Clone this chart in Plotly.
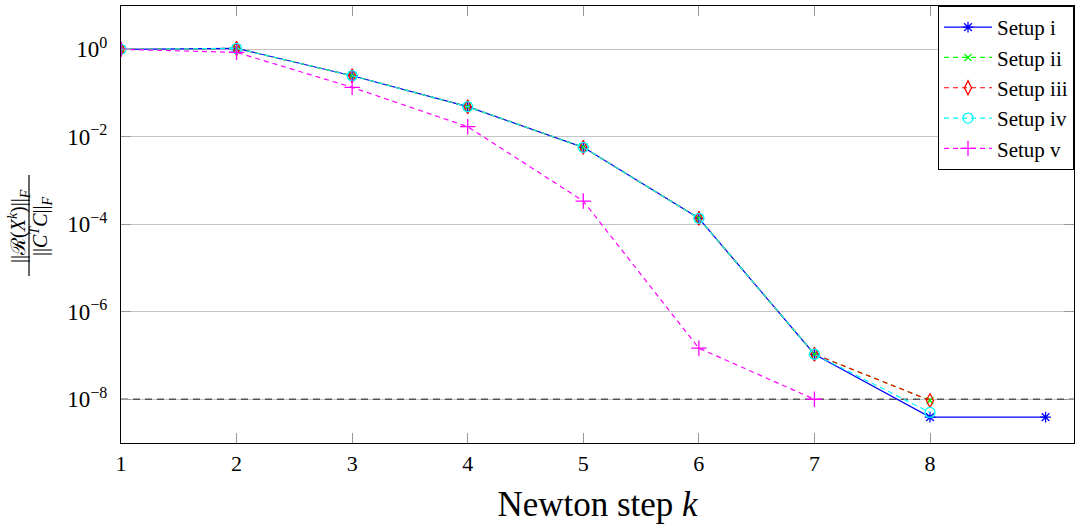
import plotly.graph_objects as go

# Newton iteration index
steps_i = [1, 2, 3, 4, 5, 6, 7, 8, 9]
steps_ii_iv = [1, 2, 3, 4, 5, 6, 7, 8]
steps_v = [1, 2, 3, 4, 5, 6, 7]

# Relative residual ||R(X^k)||_F / ||C^T C||_F per setup
res_i = [1.0, 1.05, 0.249, 0.0488, 0.00575, 1.37e-4, 1.07e-7, 3.9e-9, 3.9e-9]
res_ii = [1.0, 1.05, 0.249, 0.0488, 0.00575, 1.37e-4, 1.07e-7, 9.4e-9]
res_iii = [1.0, 1.05, 0.249, 0.0488, 0.00575, 1.37e-4, 1.07e-7, 9.4e-9]
res_iv = [1.0, 1.05, 0.249, 0.0488, 0.00575, 1.37e-4, 1.07e-7, 5.0e-9]
res_v = [1.0, 0.85, 0.135, 0.017, 3.4e-4, 1.47e-7, 1.0e-8]

# Stopping tolerance
tol = 1e-8

# Axis limits and ticks
x_lim = [1, 9.246]
y_lim_log = [-9.0, 0.99]
x_ticks = [1, 2, 3, 4, 5, 6, 7, 8]
y_ticks = [1e0, 1e-2, 1e-4, 1e-6, 1e-8]
y_ticktext = ["10<sup>0</sup>", "10<sup>\u22122</sup>", "10<sup>\u22124</sup>",
              "10<sup>\u22126</sup>", "10<sup>\u22128</sup>"]

SERIF = "'Liberation Serif', 'Times New Roman', serif"
DASH = "5px,4px"

fig = go.Figure()

fig.add_trace(go.Scatter(
    x=x_lim, y=[tol, tol], mode="lines", showlegend=False, hoverinfo="skip",
    line=dict(color="#555555", width=1.6, dash="7px,5px"),
))

series = [
    ("Setup i", steps_i, res_i, "#0000ff", "solid", "asterisk-open", 9),
    ("Setup ii", steps_ii_iv, res_ii, "#00ff00", DASH, "x-thin-open", 7),
    ("Setup iii", steps_ii_iv, res_iii, "#ff0000", DASH, "diamond-tall-open", 10),
    ("Setup iv", steps_ii_iv, res_iv, "#00ffff", DASH, "circle-open", 10),
    ("Setup v", steps_v, res_v, "#ff00ff", DASH, "cross-thin-open", 11),
]
for name, xs, ys, color, dash, symbol, size in series:
    fig.add_trace(go.Scatter(
        x=xs, y=ys, name=name, mode="lines+markers",
        line=dict(color=color, width=1.2, dash=dash),
        marker=dict(symbol=symbol, size=size, color=color,
                    line=dict(color=color, width=1.3)),
    ))

# plot-area geometry in pixels (for placing the stacked y-axis label)
W, H = 1076, 524
L, R, T, B = 121, 2, 6, 81
pw, ph = W - L - R, H - T - B


def px_x(x):
    return (x - L) / pw


def px_y(y):
    return (H - B - y) / ph


fig.update_layout(
    width=W, height=H,
    margin=dict(l=L, r=R, t=T, b=B),
    paper_bgcolor="white", plot_bgcolor="white",
    font=dict(family=SERIF, color="black", size=21),
    showlegend=True,
    legend=dict(
        x=1, y=1, xanchor="right", yanchor="top",
        bordercolor="black", borderwidth=1, bgcolor="white",
        font=dict(family=SERIF, size=21),
        tracegroupgap=0, itemwidth=48,
    ),
    xaxis=dict(
        range=x_lim, tickvals=x_ticks, ticks="inside", ticklen=10,
        tickcolor="#999999", tickwidth=1, showgrid=False, zeroline=False,
        showline=True, linecolor="black", linewidth=1.2, mirror="ticks",
        tickfont=dict(family=SERIF, size=22),
        title=dict(text="Newton step <i>k</i>", font=dict(family=SERIF, size=35),
                   standoff=18),
    ),
    yaxis=dict(
        type="log", range=y_lim_log, tickvals=y_ticks, ticktext=y_ticktext,
        ticks="inside", ticklen=10, tickcolor="#999999",
        showgrid=True, gridcolor="#c4c4c4", gridwidth=1.3, zeroline=False,
        showline=True, linecolor="black", linewidth=1.2, mirror="ticks",
        tickfont=dict(family=SERIF, size=23), ticklabelstandoff=8,
    ),
)

# y-axis label: stacked fraction, rotated
frac_font = dict(family=SERIF, size=20, color="black")
fig.add_annotation(
    xref="paper", yref="paper", x=px_x(19), y=px_y(226),
    text="||\u211b(<i>X</i><sup><i>k</i></sup>)||<sub><i>F</i></sub>",
    showarrow=False, textangle=-90, font=frac_font,
    xanchor="center", yanchor="middle",
)
fig.add_annotation(
    xref="paper", yref="paper", x=px_x(41), y=px_y(226),
    text="||<i>C</i><sup><i>T</i></sup><i>C</i>||<sub><i>F</i></sub>",
    showarrow=False, textangle=-90, font=frac_font,
    xanchor="center", yanchor="middle",
)
fig.add_shape(
    type="line", xref="paper", yref="paper",
    x0=px_x(29), x1=px_x(29), y0=px_y(175), y1=px_y(276),
    line=dict(color="black", width=1.2),
)

fig.write_html("out.html")
